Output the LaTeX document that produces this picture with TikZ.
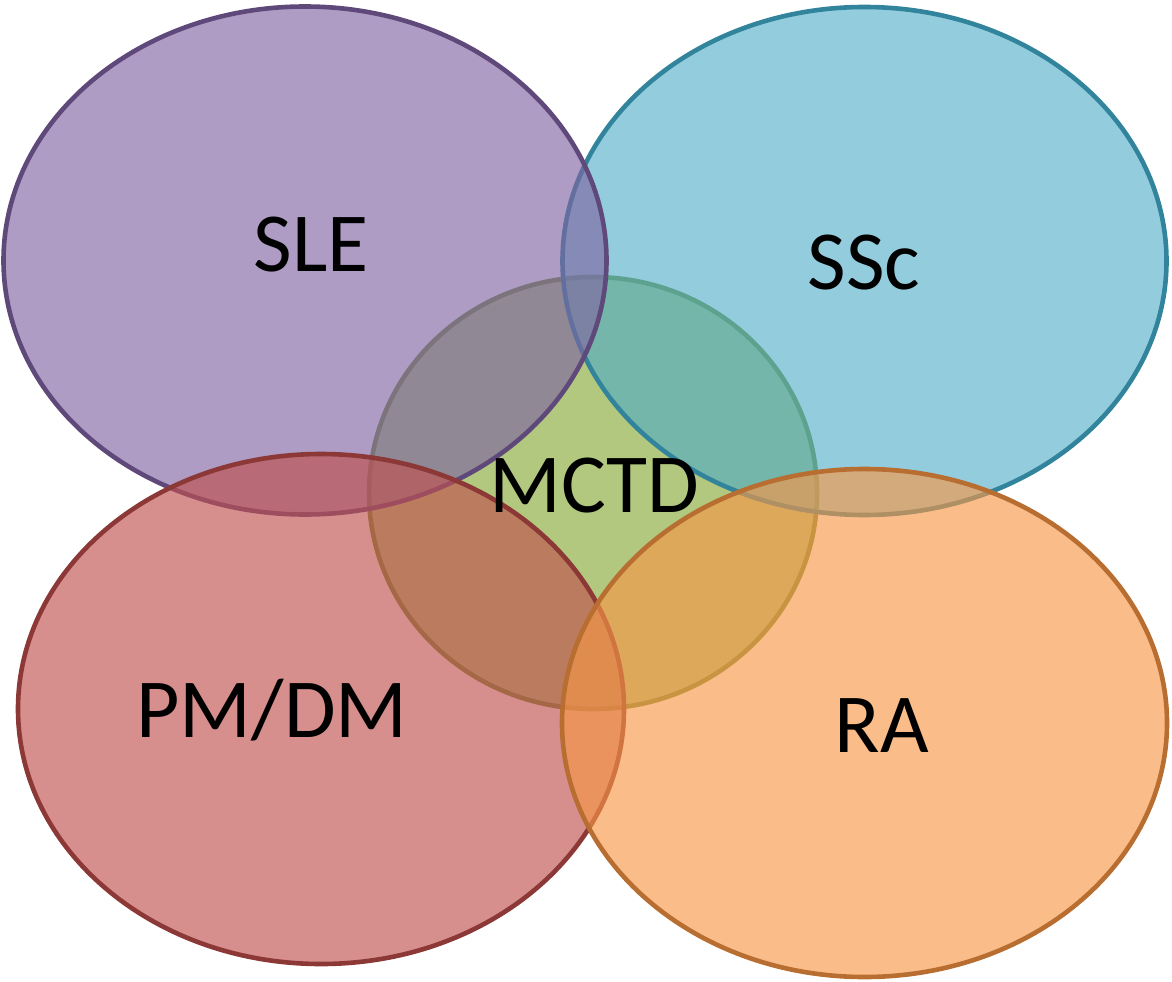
\documentclass[tikz,border=0pt]{standalone}
\usepackage{fontspec}
\setmainfont{Carlito}
\usetikzlibrary{shapes.geometric}
\definecolor{sleF}{HTML}{8064A2}\definecolor{sleD}{HTML}{5F497A}
\definecolor{sscF}{HTML}{4BACC6}\definecolor{sscD}{HTML}{31849B}
\definecolor{mctF}{HTML}{86A936}\definecolor{mctD}{HTML}{77933C}
\definecolor{pmF}{HTML}{C0504D}\definecolor{pmD}{HTML}{8C3836}
\definecolor{raF}{HTML}{F79646}\definecolor{raD}{HTML}{B86D31}
\tikzset{
  venn/.style={ellipse, inner sep=0pt, line width=4.6pt, fill opacity=0.64, draw opacity=1},
  lbl/.style={anchor=base, font=\fontsize{84}{100}\selectfont, text=black}
}
\begin{document}
\begin{tikzpicture}[x=1pt,y=-1pt]
\useasboundingbox (0,0) rectangle (1172,982);
\node[venn, draw=mctD, fill=mctF, minimum width=448pt, minimum height=432pt] (mctd) at (593,493) {};
\node[venn, draw=sscD, fill=sscF, fill opacity=0.6, minimum width=604pt, minimum height=508pt] (ssc) at (864.5,261) {};
\node[venn, draw=sleD, fill=sleF, minimum width=603pt, minimum height=508pt] (sle) at (305,260.5) {};
\node[venn, draw=pmD, fill=pmF, minimum width=606pt, minimum height=510pt] (pm) at (321,709) {};
\node[venn, draw=raD, fill=raF, minimum width=605pt, minimum height=508pt] (ra) at (864.5,723) {};
\node[lbl] (tsle) at (311,271) {SLE};
\node[lbl] (tssc) at (864,289) {SSc};
\node[lbl] (tmctd) at (594,512) {MCTD};
\node[lbl] (tpm) at (272,737) {PM/DM};
\node[lbl] (tra) at (882,752) {RA};
\end{tikzpicture}
\end{document}
